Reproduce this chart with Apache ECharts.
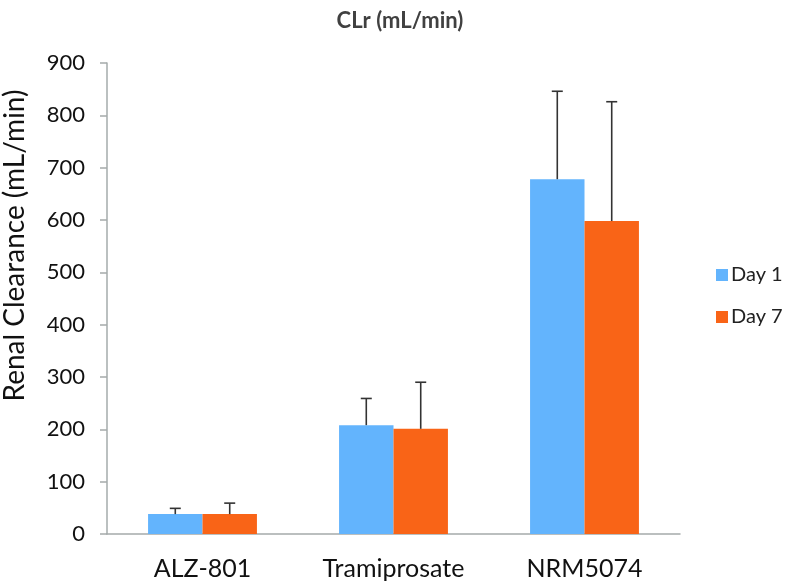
<!DOCTYPE html>
<html><head><meta charset="utf-8">
<script src="https://cdn.jsdelivr.net/npm/echarts@6/dist/echarts.min.js"></script>
<style>html,body{margin:0;padding:0;background:#fff}#c{width:786px;height:587px}</style>
</head><body><div id="c"></div>
<script>
const categories = ['ALZ-801', 'Tramiprosate', 'NRM5074'];
const day1 = [38, 208, 678];
const day7 = [38, 201, 598];
const day1Err = [49, 259, 846];
const day7Err = [59, 290, 826];
const yTicks = [0, 900, 100];

const FONT = 'Lato';
const chart = echarts.init(document.getElementById('c'));
const GAP = 0.43;
function errSeries(name, tops, bases, side) {
  return {
    type: 'custom', name: name + ' err', silent: true, z: 5,
    data: tops.map((t, i) => [i, bases[i], t]),
    renderItem: function (params, api) {
      const i = api.value(0);
      const band = api.size([1, 0])[0];
      const bw = band * (1 - GAP) / 2;
      const p0 = api.coord([i, api.value(1)]);
      const p1 = api.coord([i, api.value(2)]);
      const x = p0[0] + side * bw / 2;
      const cap = 5.5;
      const st = { stroke: '#333', lineWidth: 1.6 };
      return { type: 'group', children: [
        { type: 'line', shape: { x1: x, y1: p0[1], x2: x, y2: p1[1] }, style: st },
        { type: 'line', shape: { x1: x - cap, y1: p1[1], x2: x + cap, y2: p1[1] }, style: st }
      ] };
    }
  };
}
chart.setOption({
  animation: false,
  title: { text: 'CLr (mL/min)', left: 395, top: 5, textAlign: 'center',
    textStyle: { fontFamily: FONT, fontWeight: 'bold', fontSize: 22, color: '#404040' } },
  legend: { orient: 'vertical', left: 711, top: 260, itemWidth: 12, itemHeight: 12, itemGap: 22,
    icon: 'rect', data: ['Day 1', 'Day 7'],
    textStyle: { fontFamily: FONT, fontSize: 20, color: '#222', padding: [0, 0, 0, -2] } },
  grid: { left: 107, right: 106, top: 63, bottom: 53, containLabel: false, outerBoundsMode: 'none' },
  xAxis: { type: 'category', data: categories,
    axisLine: { lineStyle: { color: '#a5abab', width: 1.5 } },
    axisTick: { length: 8, lineStyle: { color: '#a5abab', width: 1.5 } },
    axisLabel: { fontFamily: FONT, fontSize: 25, color: '#111', margin: 22 } },
  yAxis: { type: 'value', min: yTicks[0], max: yTicks[1], interval: yTicks[2],
    name: 'Renal Clearance (mL/min)', nameLocation: 'middle', nameGap: 78,
    nameTextStyle: { fontFamily: FONT, fontSize: 28, color: '#111', padding: [0, 0, 0, 106] },
    axisLine: { show: true, lineStyle: { color: '#a5abab', width: 1.5 } },
    axisTick: { show: true, length: 7, lineStyle: { color: '#a5abab', width: 1.5 } },
    splitLine: { show: false },
    axisLabel: { fontFamily: FONT, fontSize: 22, color: '#111', margin: 22 } },
  series: [
    { type: 'bar', name: 'Day 1', data: day1, barGap: '0%', barCategoryGap: '43%',
      itemStyle: { color: '#63b4fd' } },
    { type: 'bar', name: 'Day 7', data: day7, barGap: '0%', barCategoryGap: '43%',
      itemStyle: { color: '#f96417' } },
    errSeries('Day 1', day1Err, day1, -1),
    errSeries('Day 7', day7Err, day7, 1)
  ]
});
</script></body></html>
